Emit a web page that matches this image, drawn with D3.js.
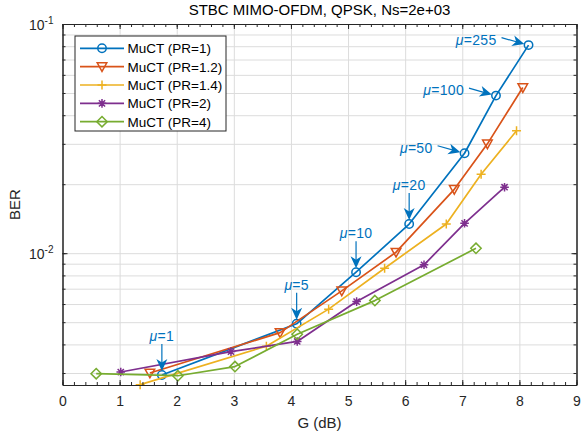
<!DOCTYPE html>
<html>
<head>
<meta charset="utf-8">
<script src="https://cdn.jsdelivr.net/npm/d3@7/dist/d3.min.js"></script>
<style>
    body { margin: 0; background: #fff; }
    svg { font-family: 'Liberation Sans', Arial, Helvetica, sans-serif; }
    .axis path.domain, .axis .tick line { stroke: #262626; }
    .axis text { fill: #262626; font-size: 14px; }
    .grid line { stroke: #dcdcdc; }
    .grid path.domain { display: none; }
    .series-line { fill: none; stroke-width: 1.7; stroke-linejoin: round; }
    .marker { fill: none; stroke-width: 1.5; }
    .note { fill: #0072bd; font-size: 14px; letter-spacing: 0.3px; }
</style>
</head>
<body>
<div id="ber-plot"></div>
<script>
// values
const seriesNames = ['MuCT (PR=1)', 'MuCT (PR=1.2)', 'MuCT (PR=1.4)', 'MuCT (PR=2)', 'MuCT (PR=4)'];

const gainPR1 = [1.74, 4.10, 5.14, 6.07, 7.04, 7.59, 8.16];
const berPR1 = [2.94e-3, 4.92e-3, 8.26e-3, 1.34e-2, 2.73e-2, 4.87e-2, 8.09e-2];

const gainPR12 = [1.53, 3.81, 4.89, 5.84, 6.86, 7.44, 8.06];
const berPR12 = [3.0e-3, 4.5e-3, 6.85e-3, 1.01e-2, 1.90e-2, 3.0e-2, 5.28e-2];

const gainPR14 = [1.36, 3.57, 4.66, 5.64, 6.72, 7.33, 7.95];
const berPR14 = [2.67e-3, 3.93e-3, 5.7e-3, 8.6e-3, 1.34e-2, 2.21e-2, 3.42e-2];

const gainPR2 = [1.02, 2.95, 4.11, 5.15, 6.33, 7.04, 7.74];
const berPR2 = [3.03e-3, 3.72e-3, 4.12e-3, 6.15e-3, 8.9e-3, 1.35e-2, 1.94e-2];

const gainPR4 = [0.59, 2.02, 3.02, 4.11, 5.47, 7.24];
const berPR4 = [2.98e-3, 2.92e-3, 3.2e-3, 4.43e-3, 6.21e-3, 1.05e-2];

// mu labels sit on the PR=1 points, in order
const muLabels = ['1', '5', '10', '20', '50', '100', '255'];

const xTicks = [0, 1, 2, 3, 4, 5, 6, 7, 8, 9];
const yTickExps = [-2, -1];
const xDomain = [0, 9];
const yDomain = [2.66e-3, 1e-1];

const titleText = 'STBC MIMO-OFDM, QPSK, Ns=2e+03';

function berPlot() {
    let svgWidth = 581,
        svgHeight = 434,
        margin = {top: 24, right: 4.5, bottom: 49, left: 62.5},
        plotWidth = svgWidth - margin.left - margin.right,
        plotHeight = svgHeight - margin.top - margin.bottom,
        colors = ['#0072bd', '#d95319', '#edb120', '#7e2f8e', '#77ac30'],
        markerTypes = ['circle', 'triangle', 'plus', 'asterisk', 'diamond'];

    let svg = d3.select('#ber-plot').append('svg')
                .attr('width', svgWidth)
                .attr('height', svgHeight),
        plot = svg.append('g')
                  .attr('transform', `translate(${margin.left}, ${margin.top})`);

    let xScale = d3.scaleLinear().domain(xDomain).range([0, plotWidth]),
        yScale = d3.scaleLog().domain(yDomain).range([plotHeight, 0]);

    let series = [
        [gainPR1, berPR1], [gainPR12, berPR12], [gainPR14, berPR14],
        [gainPR2, berPR2], [gainPR4, berPR4]
    ].map((s, i) => ({
        name: seriesNames[i],
        color: colors[i],
        marker: markerTypes[i],
        points: s[0].map((g, j) => ({g: g, ber: s[1][j]}))
    }));

    // all 1..9 x 10^k values inside the y domain
    let yMinor = [];
    for (let e = -3; e <= -1; e++) {
        for (let k = 1; k <= 9; k++) {
            let v = k * Math.pow(10, e);
            if (v >= yDomain[0] * 0.999 && v <= yDomain[1] * 1.001) yMinor.push(v);
        }
    }
    let yMajor = yTickExps.map(e => Math.pow(10, e)),
        xMinor = d3.range(0, 9.01, 0.2).map(d => +d.toFixed(1));

    // grid
    plot.append('g').attr('class', 'grid')
        .attr('transform', `translate(0, ${plotHeight})`)
        .call(d3.axisBottom(xScale).tickValues(xTicks).tickSize(-plotHeight).tickFormat(''));
    plot.append('g').attr('class', 'grid')
        .call(d3.axisLeft(yScale).tickValues(yMinor).tickSize(-plotWidth).tickFormat(''));

    // series
    let line = d3.line().x(d => xScale(d.g)).y(d => yScale(d.ber));
    series.forEach(s => {
        plot.append('path')
            .datum(s.points)
            .attr('class', 'series-line')
            .attr('stroke', s.color)
            .attr('d', line);
        plot.append('g').selectAll('g')
            .data(s.points).enter()
            .append('g')
            .attr('transform', d => `translate(${xScale(d.g)}, ${yScale(d.ber)})`)
            .each(function () { drawMarker(d3.select(this), s.marker, s.color); });
    });

    // axes with inward ticks, box on all sides
    setUpAxes(plot, xScale, yScale, plotWidth, plotHeight, yMajor, yMinor, xMinor);

    // mu annotations
    setUpNotes(plot, series[0].points, xScale, yScale);

    // legend
    setUpLegend(plot.append('g').attr('transform', 'translate(12.5, 12)'), series);

    // labels
    svg.append('text')
       .attr('x', margin.left + plotWidth / 2)
       .attr('y', 15)
       .attr('text-anchor', 'middle')
       .attr('font-size', 15)
       .attr('fill', '#000')
       .text(titleText);
    svg.append('text')
       .attr('x', margin.left + plotWidth / 2)
       .attr('y', 428)
       .attr('text-anchor', 'middle')
       .attr('font-size', 15)
       .attr('fill', '#262626')
       .text('G (dB)');
    svg.append('text')
       .attr('transform', `translate(20, ${margin.top + plotHeight / 2}) rotate(-90)`)
       .attr('text-anchor', 'middle')
       .attr('font-size', 15)
       .attr('fill', '#262626')
       .text('BER');
}

function drawMarker(g, type, color) {
    if (type === 'circle') {
        g.append('circle').attr('class', 'marker').attr('r', 4.2).attr('stroke', color);
    } else if (type === 'triangle') {
        g.append('path').attr('class', 'marker').attr('stroke', color)
         .attr('d', 'M-4.8,-3.8L4.8,-3.8L0,4.8Z');
    } else if (type === 'plus') {
        g.append('path').attr('class', 'marker').attr('stroke', color)
         .attr('d', 'M-4.5,0H4.5M0,-4.5V4.5');
    } else if (type === 'asterisk') {
        g.append('path').attr('class', 'marker').attr('stroke', color)
         .attr('stroke-width', 1.7)
         .attr('d', 'M-4.3,0H4.3M0,-4.3V4.3M-3.1,-3.1L3.1,3.1M-3.1,3.1L3.1,-3.1');
    } else if (type === 'diamond') {
        g.append('path').attr('class', 'marker').attr('stroke', color)
         .attr('d', 'M0,-5.2L5.2,0L0,5.2L-5.2,0Z');
    }
}

function setUpAxes(plot, xScale, yScale, w, h, yMajor, yMinor, xMinor) {
    let noLabel = () => '';
    // minor ticks
    plot.append('g').attr('class', 'axis').attr('transform', `translate(0, ${h})`)
        .call(d3.axisBottom(xScale).tickValues(xMinor).tickSize(-3).tickSizeOuter(0).tickFormat(noLabel));
    plot.append('g').attr('class', 'axis')
        .call(d3.axisTop(xScale).tickValues(xMinor).tickSize(-3).tickSizeOuter(0).tickFormat(noLabel));
    plot.append('g').attr('class', 'axis')
        .call(d3.axisLeft(yScale).tickValues(yMinor).tickSize(-3).tickSizeOuter(0).tickFormat(noLabel));
    plot.append('g').attr('class', 'axis').attr('transform', `translate(${w}, 0)`)
        .call(d3.axisRight(yScale).tickValues(yMinor).tickSize(-3).tickSizeOuter(0).tickFormat(noLabel));

    // major ticks with labels
    plot.append('g').attr('class', 'axis').attr('transform', `translate(0, ${h})`)
        .call(d3.axisBottom(xScale).tickValues(xTicks).tickSize(-5).tickSizeOuter(0)
                .tickPadding(11.5).tickFormat(d3.format('d')));
    plot.append('g').attr('class', 'axis')
        .call(d3.axisTop(xScale).tickValues(xTicks).tickSize(-5).tickSizeOuter(0).tickFormat(noLabel));
    let yAxisGroup = plot.append('g').attr('class', 'axis')
        .call(d3.axisLeft(yScale).tickValues(yMajor).tickSize(-5).tickSizeOuter(0)
                .tickPadding(9).tickFormat(noLabel));
    plot.append('g').attr('class', 'axis').attr('transform', `translate(${w}, 0)`)
        .call(d3.axisRight(yScale).tickValues(yMajor).tickSize(-5).tickSizeOuter(0).tickFormat(noLabel));

    // 10^k labels
    yAxisGroup.selectAll('.tick text').each(function (d) {
        let t = d3.select(this).attr('dy', '0.4em');
        t.append('tspan').text('10');
        t.append('tspan').attr('dy', -6).attr('font-size', 10)
         .text('-' + Math.round(-Math.log10(d)));
    });
}

function arrowHead(g, x1, y1, x2, y2, color) {
    let angle = Math.atan2(y2 - y1, x2 - x1) * 180 / Math.PI;
    g.append('path')
     .attr('d', 'M0,0L-12,-5.5L-8.5,0L-12,5.5Z')
     .attr('fill', color)
     .attr('transform', `translate(${x2}, ${y2}) rotate(${angle})`);
}

function setUpNotes(plot, points, xScale, yScale) {
    let color = '#0072bd',
        notes = plot.append('g');
    points.forEach((p, i) => {
        let px = xScale(p.g), py = yScale(p.ber),
            x1, y1, x2, y2, text;
        if (i < 4) {
            // vertical arrow from above
            x1 = px; y1 = py - 31; x2 = px; y2 = py - 4;
            text = notes.append('text').attr('class', 'note')
                        .attr('x', px).attr('y', y1 - 3)
                        .attr('text-anchor', 'middle');
        } else {
            // arrow from the upper left
            x1 = px - 27; y1 = py - 7.5; x2 = px - 4.2; y2 = py - 1;
            text = notes.append('text').attr('class', 'note')
                        .attr('x', x1 - 5).attr('y', y1 + 7)
                        .attr('text-anchor', 'end');
        }
        text.append('tspan').attr('font-style', 'italic').text('\u03bc');
        text.append('tspan').text('=' + muLabels[i]);
        notes.append('line')
             .attr('x1', x1).attr('y1', y1).attr('x2', x2 - (x2 - x1) * 0.2).attr('y2', y2 - (y2 - y1) * 0.2)
             .attr('stroke', color).attr('stroke-width', 1.2);
        arrowHead(notes, x1, y1, x2, y2, color);
    });
}

function setUpLegend(legend, series) {
    let rowH = 18.35;
    legend.append('rect')
          .attr('x', 0).attr('y', 0)
          .attr('width', 151).attr('height', 95)
          .attr('fill', '#fff')
          .attr('stroke', '#262626')
          .attr('stroke-width', 1);
    let rows = legend.selectAll('g.entry')
                     .data(series).enter()
                     .append('g').attr('class', 'entry')
                     .attr('transform', (d, i) => `translate(0, ${12.3 + rowH * i})`);
    rows.append('line')
        .attr('x1', 5).attr('x2', 49)
        .attr('stroke', d => d.color)
        .attr('stroke-width', 1.7);
    rows.append('g')
        .attr('transform', 'translate(27, 0)')
        .each(function (d) { drawMarker(d3.select(this), d.marker, d.color); });
    rows.append('text')
        .attr('x', 52.5).attr('dy', '0.36em')
        .attr('font-size', 13.5)
        .attr('fill', '#000')
        .text(d => d.name);
}

berPlot();
</script>
</body>
</html>
